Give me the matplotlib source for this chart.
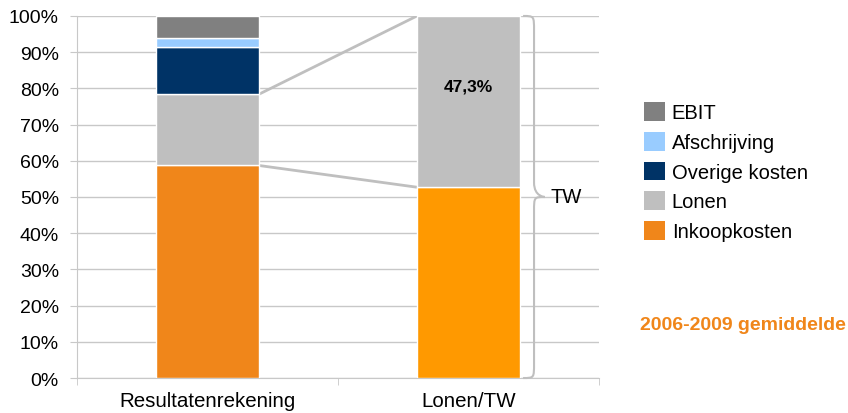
import matplotlib
matplotlib.use('Agg')
import matplotlib.pyplot as plt
import matplotlib.patches as mpatches
from matplotlib.path import Path

plt.rcParams['font.family'] = ['Liberation Sans', 'DejaVu Sans']

# ─── Data ─────────────────────────────────────────────────────────────────────
categories = ['Resultatenrekening', 'Lonen/TW']
series = ['Inkoopkosten', 'Lonen', 'Overige kosten', 'Afschrijving', 'EBIT']
bar1_values = [58.7, 19.7, 12.9, 2.5, 6.2]      # Resultatenrekening
bar2_values = [52.7, 47.3]                        # Lonen/TW: inkoop (TW), lonen
bar1_colors = ['#F0861A', '#BFBFBF', '#003366', '#99CCFF', '#808080']
bar2_colors = ['#FF9900', '#BFBFBF']
yticks = [0, 10, 20, 30, 40, 50, 60, 70, 80, 90, 100]
label_lonen_tw = '47,3%'
note = '2006-2009 gemiddelde'

fig = plt.figure(figsize=(8.48, 4.14), dpi=100)
ax = fig.add_axes([0.0908, 0.0845, 0.6156, 0.8745])

W = 0.395
GRID = '#C8C8C8'

# ─── Bars ─────────────────────────────────────────────────────────────────────
bottom = 0
for v, c in zip(bar1_values, bar1_colors):
    ax.bar(0, v, W, bottom=bottom, color=c, edgecolor='white', lw=1.0, zorder=3)
    bottom += v
bottom = 0
for v, c in zip(bar2_values, bar2_colors):
    ax.bar(1, v, W, bottom=bottom, color=c, edgecolor='white', lw=1.0, zorder=3)
    bottom += v

ax.text(1, bar2_values[0] + bar2_values[1] * 0.59, label_lonen_tw,
        ha='center', va='center', fontsize=12.5, fontweight='bold', zorder=5)

# ─── Connector lines (Lonen segment -> Lonen/TW bar) ──────────────────────────
lon_lo = bar1_values[0]
lon_hi = bar1_values[0] + bar1_values[1]
ax.plot([W/2, 1 - W/2], [lon_hi, 100], color='#BFBFBF', lw=2, zorder=2,
        solid_capstyle='butt')
ax.plot([W/2, 1 - W/2], [lon_lo, bar2_values[0]], color='#BFBFBF', lw=2, zorder=2,
        solid_capstyle='butt')

# ─── Curly brace TW ───────────────────────────────────────────────────────────
x0, x1, xt = 1.209, 1.251, 1.293
ym = 50
verts = [(x0, 100), (x1, 100), (x1, 100), (x1, 96),
         (x1, 54),
         (x1, ym), (xt, ym), (xt, ym),
         (x1, ym), (x1, ym), (x1, 46),
         (x1, 4),
         (x1, 0), (x1, 0), (x0, 0)]
codes = [Path.MOVETO, Path.CURVE4, Path.CURVE4, Path.CURVE4,
         Path.LINETO,
         Path.CURVE4, Path.CURVE4, Path.CURVE4,
         Path.CURVE4, Path.CURVE4, Path.CURVE4,
         Path.LINETO,
         Path.CURVE4, Path.CURVE4, Path.CURVE4]
ax.add_patch(mpatches.PathPatch(Path(verts, codes), fc='none', ec='#BFBFBF',
                                lw=1.5, zorder=4, clip_on=False))
ax.text(xt + 0.02, ym, 'TW', ha='left', va='center', fontsize=14.5, zorder=5)

# ─── Axes styling ─────────────────────────────────────────────────────────────
ax.set_xlim(-0.5, 1.5)
ax.set_ylim(0, 100)
ax.set_yticks(yticks)
ax.set_yticklabels([f'{t}%' for t in yticks], fontsize=14)
ax.set_xticks([0, 1])
ax.set_xticklabels(categories, fontsize=14.8)
ax.set_xticks([-0.5, 0.5, 1.5], minor=True)
ax.tick_params(axis='x', which='major', length=0, pad=9)
ax.tick_params(axis='x', which='minor', length=5, color=GRID)
ax.tick_params(axis='y', length=5, color=GRID, pad=8)
ax.yaxis.grid(True, color=GRID, lw=1)
ax.set_axisbelow(True)
for s in ['top', 'right']:
    ax.spines[s].set_visible(False)
for s in ['left', 'bottom']:
    ax.spines[s].set_color(GRID)

# ─── Legend ───────────────────────────────────────────────────────────────────
handles = [mpatches.Patch(fc=c, ec='none', label=l)
           for l, c in zip(series, bar1_colors)][::-1]
fig.legend(handles=handles, loc='upper left', bbox_to_anchor=(0.747, 0.775),
           frameon=False, fontsize=14.5, handlelength=1.05, handleheight=1.05,
           handletextpad=0.35, labelspacing=0.47, borderpad=0)

fig.text(0.998, 0.213, note, ha='right', va='center', fontsize=14,
         fontweight='bold', color='#F0861A')

fig.savefig('out.png', dpi=100, facecolor='white')
